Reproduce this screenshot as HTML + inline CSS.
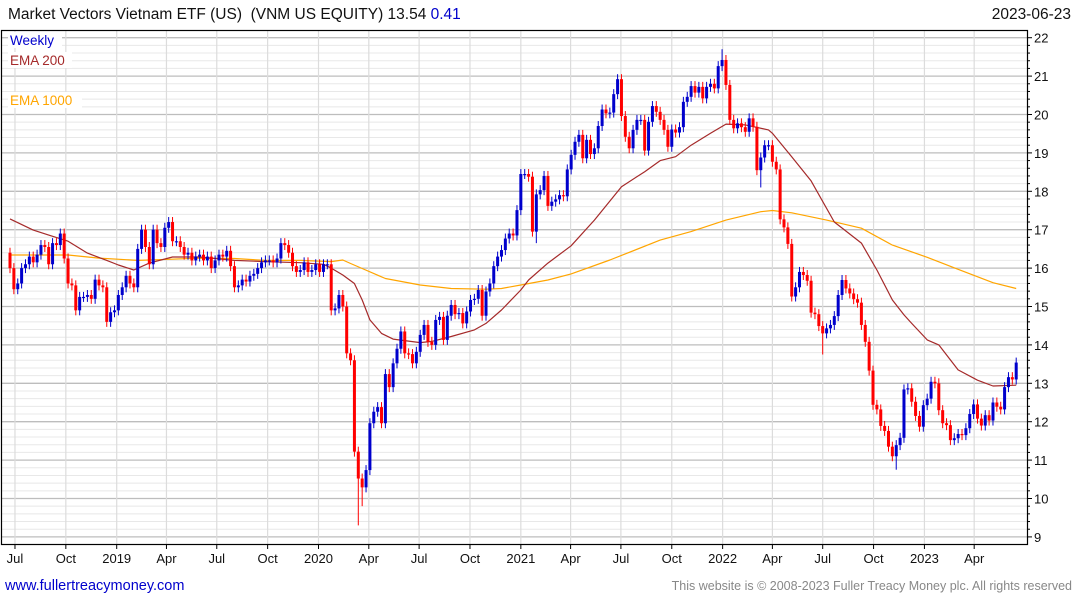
<!DOCTYPE html>
<html><head><meta charset="utf-8"><title>VNM weekly chart</title>
<style>
html,body{margin:0;padding:0;background:#fff;width:1075px;height:600px;overflow:hidden}
svg{display:block;font-family:"Liberation Sans","DejaVu Sans",sans-serif}
</style></head>
<body>
<svg id="chart" width="1075" height="600" viewBox="0 0 1075 600" xmlns="http://www.w3.org/2000/svg">
  <rect x="0" y="0" width="1075" height="600" fill="#fff"/>
  <text x="8" y="19" font-size="15.5" fill="#111" xml:space="preserve">Market Vectors Vietnam ETF (US)  (VNM US EQUITY) 13.54 <tspan fill="#0000cc">0.41</tspan></text>
  <text x="1071" y="19" font-size="15.5" fill="#111" text-anchor="end">2023-06-23</text>
  <g id="grid"></g>
  <g id="ema"></g>
  <g id="candles"></g>
  <rect x="1.5" y="30.5" width="1026" height="514" fill="none" stroke="#000" stroke-width="1.2"/>
  <g id="axes"></g>
  <rect x="8" y="32" width="54" height="16" fill="#fff"/>
  <text x="10" y="45" font-size="13.5" fill="#0000cc">Weekly</text>
  <rect x="8" y="52" width="64" height="16" fill="#fff"/>
  <text x="10" y="65" font-size="13.5" fill="#a52a2a">EMA 200</text>
  <rect x="8" y="92" width="74" height="16" fill="#fff"/>
  <text x="10" y="105" font-size="13.5" fill="#ffa500">EMA 1000</text>
  <text x="5" y="590" font-size="14.5" fill="#0000cc">www.fullertreacymoney.com</text>
  <text x="1072" y="590" font-size="12.5" fill="#888" text-anchor="end">This website is © 2008-2023 Fuller Treacy Money plc. All rights reserved</text>
</svg>
<script>
const closes = [16.0,15.45,15.6,16.0,16.1,16.3,16.15,16.35,16.6,16.55,16.1,16.65,16.6,16.9,16.25,15.6,15.55,14.9,15.25,15.25,15.3,15.2,15.7,15.55,15.5,14.6,14.85,14.9,15.3,15.5,15.8,15.6,15.5,16.5,17.0,16.55,16.1,17.0,16.65,16.55,17.05,17.2,16.7,16.7,16.55,16.35,16.4,16.2,16.3,16.35,16.2,16.3,16.0,16.2,16.35,16.3,16.45,16.05,15.5,15.55,15.7,15.65,15.8,15.85,16.0,16.15,16.2,16.2,16.15,16.25,16.65,16.6,16.4,16.05,15.9,15.95,16.15,15.9,15.95,16.1,15.9,16.1,16.1,14.9,14.95,15.3,15.0,
13.78,13.6,11.22,10.52,10.29,10.74,11.96,12.26,12.38,11.96,13.24,12.9,13.52,13.9,14.35,13.78,13.76,13.52,13.82,14.26,14.52,14.08,14.0,14.65,14.73,14.13,14.76,15.04,14.8,14.83,14.56,14.87,15.17,15.2,15.43,14.76,15.39,15.6,16.05,16.3,16.47,16.77,16.9,16.85,17.51,18.45,18.45,18.38,16.95,17.92,18.03,18.4,17.62,17.73,17.79,17.9,17.87,18.57,
18.95,19.29,19.47,18.86,19.34,18.97,19.12,19.7,20.13,20.03,20.05,20.53,20.92,19.96,19.42,19.12,19.6,19.86,19.86,19.06,19.81,20.22,20.07,19.86,19.6,19.16,19.61,19.53,19.67,20.33,20.46,20.74,20.57,20.72,20.42,20.72,20.8,20.68,21.26,21.42,20.77,19.86,19.64,19.77,19.67,19.55,19.9,19.68,18.55,18.88,19.2,19.2,18.77,18.57,17.27,17.06,16.63,
15.26,15.5,15.9,15.82,15.67,14.84,14.8,14.49,14.3,14.43,14.52,14.75,15.3,15.69,15.47,15.34,15.19,15.1,14.52,14.08,13.33,12.44,12.32,11.89,11.76,11.35,11.1,11.39,11.58,12.84,12.87,12.52,12.15,11.87,12.43,12.6,13.04,13.0,12.3,11.96,11.91,11.52,11.57,11.68,11.65,11.83,12.2,12.45,12.08,11.9,12.17,12.03,12.5,12.39,12.32,12.9,13.16,13.1,13.54];
const firstOpen = 16.4;
const lowIdx = [90, 91, 136, 194, 210, 229];
const lowVal = [9.3, 9.8, 16.65, 18.1, 13.75, 10.75];
const highIdx = [89, 184, 146, 157];
const highVal = [13.3, 21.7, 18.75, 20.95];
const ema200Idx = [0,6,10,15,20,25,28,32,36,42,49,58,66,75,81,83,86,89,91,93,96,99,106,109,114,120,123,127,132,134,139,145,151,158,164,168,172,176,181,185,190,196,197,202,207,213,220,224,228,231,233,237,240,245,250,254,260];
const ema200Val = [17.28,16.99,16.86,16.7,16.39,16.2,16.08,15.95,16.13,16.29,16.29,16.2,16.17,16.14,16.1,16.0,15.82,15.6,15.17,14.65,14.3,14.15,14.06,14.09,14.22,14.39,14.56,14.91,15.43,15.69,16.13,16.58,17.25,18.12,18.51,18.8,18.9,19.2,19.51,19.75,19.73,19.6,19.51,18.9,18.27,17.2,16.65,15.95,15.17,14.78,14.56,14.13,14.0,13.35,13.08,12.93,12.95];
const ema1000Idx = [0,15,23,33,41,49,58,66,75,83,86,88,91,97,106,114,123,127,132,139,145,155,168,176,185,194,197,202,211,220,228,237,245,254,260];
const ema1000Val = [16.34,16.34,16.26,16.2,16.23,16.26,16.25,16.2,16.2,16.17,16.21,16.12,15.99,15.73,15.56,15.47,15.45,15.47,15.56,15.69,15.85,16.21,16.73,16.95,17.25,17.47,17.5,17.44,17.25,17.04,16.6,16.28,15.97,15.62,15.47];
const yTicks = [9,10,11,12,13,14,15,16,17,18,19,20,21,22];
const xTickLabels = ["Jul","Oct","2019","Apr","Jul","Oct","2020","Apr","Jul","Oct","2021","Apr","Jul","Oct","2022","Apr","Jul","Oct","2023","Apr"];
const xTickDates = ["2018-07-01","2018-10-01","2019-01-01","2019-04-01","2019-07-01","2019-10-01","2020-01-01","2020-04-01","2020-07-01","2020-10-01","2021-01-01","2021-04-01","2021-07-01","2021-10-01","2022-01-01","2022-04-01","2022-07-01","2022-10-01","2023-01-01","2023-04-01"];

const NS = "http://www.w3.org/2000/svg";
const X0 = 10, STEP = 3.87, startDate = Date.UTC(2018,5,22);
const xOf = i => X0 + i * STEP;
const xOfDate = s => { const p = s.split("-"); const d = Date.UTC(+p[0], +p[1]-1, +p[2]); return xOf((d - startDate) / (7*86400000)); };
const yOf = v => 37.7 + (22 - v) * 38.4;
function mk(tag, attrs, parent){ const e = document.createElementNS(NS, tag); for (const k in attrs) e.setAttribute(k, attrs[k]); parent.appendChild(e); return e; }

const grid = document.getElementById("grid");
const axes = document.getElementById("axes");
for (let v = 8.8; v <= 22.41; v += 0.2) {
  const vv = Math.round(v*10)/10;
  const y = yOf(vv);
  if (y < 31 || y > 544) continue;
  const major = Math.abs(vv - Math.round(vv)) < 0.01;
  const ln = mk("line", {x1:2, x2:1027, y1:y, y2:y, stroke: major ? "#bdbdbd" : "#e8e8e8", "stroke-width": major ? 1.3 : 1}, grid);
  
  
  const tk = mk("line", {x1:1027, x2: major ? 1032 : 1030, y1:y, y2:y, stroke:"#000", "stroke-width":1}, axes);
  
  
}
yTicks.forEach(v => {
  const t = mk("text", {x:1034, y: yOf(v)+5, "font-size":13, fill:"#111"}, axes);
  t.textContent = v;
  
  
});
xTickDates.forEach((d, k) => {
  const x = xOfDate(d);
  const ln = mk("line", {x1:x, x2:x, y1:31, y2:544, stroke:"#dcdcdc", "stroke-width":1.2}, grid);
  
  
  const tk = mk("line", {x1:x, x2:x, y1:544, y2:549, stroke:"#000", "stroke-width":1}, axes);
  
  
  const t = mk("text", {x:x, y:563, "font-size":13, fill:"#111", "text-anchor":"middle"}, axes);
  t.textContent = xTickLabels[k];
  
  
});

const emaG = document.getElementById("ema");
function drawLine(idx, vals, color, name){
  const pts = idx.map((i, k) => xOf(i).toFixed(1) + "," + yOf(vals[k]).toFixed(1)).join(" ");
  const pl = mk("polyline", {points: pts, fill:"none", stroke: color, "stroke-width": 1.2, "stroke-linejoin":"round"}, emaG);
  
  
}
drawLine(ema1000Idx, ema1000Val, "#ffa500", "ema-1000-line");
drawLine(ema200Idx, ema200Val, "#a52a2a", "ema-200-line");

const cg = document.getElementById("candles");
closes.forEach((c, i) => {
  const o = i === 0 ? firstOpen : closes[i-1];
  const up = c >= o;
  const col = up ? "#0000cc" : "#ff0000";
  const x = xOf(i);
  let hi = Math.max(o, c) + 0.13, lo = Math.min(o, c) - 0.13;
  const li = lowIdx.indexOf(i); if (li >= 0) lo = Math.min(lo, lowVal[li]);
  const hj = highIdx.indexOf(i); if (hj >= 0) hi = Math.max(hi, highVal[hj]);
  const g = mk("g", {}, cg);
  
  
  mk("line", {x1:x, x2:x, y1:yOf(hi), y2:yOf(lo), stroke: col, "stroke-width":1}, g);
  const top = yOf(Math.max(o, c)), bot = yOf(Math.min(o, c));
  mk("rect", {x: x-1.5, y: top, width: 3, height: Math.max(1.2, bot-top), fill: col}, g);
});
</script>
</body></html>
